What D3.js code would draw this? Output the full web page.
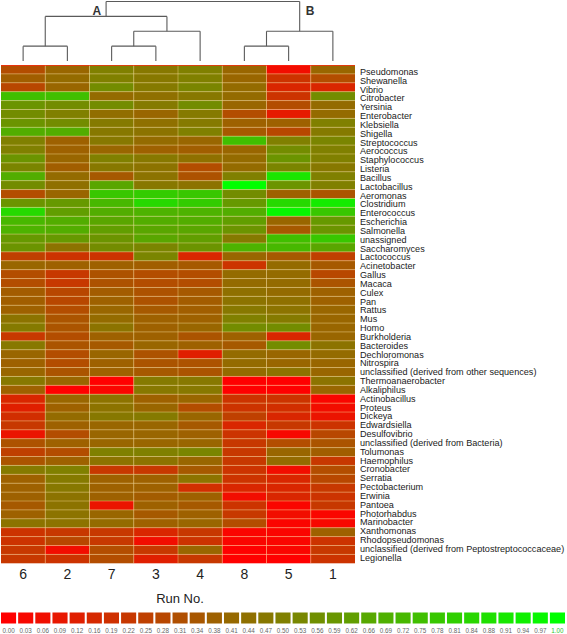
<!DOCTYPE html>
<html><head><meta charset="utf-8">
<script src="https://cdn.jsdelivr.net/npm/d3@7"></script>
<style>body{margin:0;background:#fff}svg{display:block}</style>
</head><body>
<script>
// ---------- DATA ----------
const runs = ["6","2","7","3","4","8","5","1"];
const genera = ["Pseudomonas","Shewanella","Vibrio","Citrobacter","Yersinia","Enterobacter","Klebsiella","Shigella",
"Streptococcus","Aerococcus","Staphylococcus","Listeria","Bacillus","Lactobacillus","Aeromonas","Clostridium",
"Enterococcus","Escherichia","Salmonella","unassigned","Saccharomyces","Lactococcus","Acinetobacter","Gallus",
"Macaca","Culex","Pan","Rattus","Mus","Homo","Burkholderia","Bacteroides","Dechloromonas","Nitrospira",
"unclassified (derived from other sequences)","Thermoanaerobacter","Alkaliphilus","Actinobacillus","Proteus",
"Dickeya","Edwardsiella","Desulfovibrio","unclassified (derived from Bacteria)","Tolumonas","Haemophilus",
"Cronobacter","Serratia","Pectobacterium","Erwinia","Pantoea","Photorhabdus","Marinobacter","Xanthomonas",
"Rhodopseudomonas","unclassified (derived from Peptostreptococcaceae)","Legionella"];

// relative abundance (0 = red, 1 = green), one array per run, in genus order
const run6 = [.30,.37,.28,.75,.58,.55,.58,.68,.50,.50, .58,.52,.68,.55,.30,.58,.85,.72,.70,.60,
              .58,.25,.40,.30,.30,.36,.37,.38,.45,.48, .22,.47,.40,.38,.40,.47,.38,.15,.12,.18,
              .22,.08,.32,.25,.33,.48,.38,.38,.38,.35, .38,.45,.20,.20,.22,.22];
const run2 = [.40,.42,.40,.75,.55,.50,.55,.68,.38,.38, .40,.37,.42,.44,.40,.60,.62,.68,.68,.60,
              .45,.20,.38,.22,.22,.28,.28,.30,.33,.33, .30,.33,.30,.30,.33,.40,.00,.40,.38,.42,
              .38,.30,.38,.30,.38,.50,.48,.47,.45,.45, .45,.45,.22,.28,.05,.20];
const run7 = [.50,.50,.55,.42,.55,.43,.48,.47,.47,.40, .50,.47,.35,.65,.78,.72,.68,.65,.62,.58,
              .55,.20,.38,.32,.32,.36,.38,.40,.42,.45, .38,.35,.40,.38,.38,.00,.02,.45,.45,.47,
              .40,.40,.40,.50,.45,.22,.38,.38,.38,.08, .40,.42,.22,.22,.30,.30];
const run3 = [.47,.47,.48,.44,.48,.40,.44,.45,.42,.38, .47,.45,.45,.47,.80,.85,.70,.68,.65,.65,
              .52,.52,.37,.30,.30,.32,.32,.35,.38,.38, .38,.40,.32,.33,.35,.48,.47,.38,.40,.48,
              .40,.40,.40,.50,.45,.22,.38,.38,.36,.38, .35,.38,.15,.05,.22,.12];
const run4 = [.50,.50,.52,.47,.55,.48,.48,.50,.40,.37, .44,.30,.32,.45,.78,.80,.70,.68,.65,.62,
              .58,.15,.35,.30,.30,.35,.36,.37,.38,.40, .33,.38,.12,.32,.33,.47,.47,.40,.30,.40,
              .35,.38,.40,.52,.40,.35,.45,.18,.38,.35, .38,.40,.22,.20,.40,.22];
const run8 = [.40,.40,.42,.42,.40,.30,.38,.35,.75,.40, .42,.42,.50,1.0,.55,.60,.68,.62,.58,.48,
              .70,.40,.20,.42,.42,.44,.45,.47,.50,.55, .38,.35,.42,.42,.42,.00,.00,.20,.20,.25,
              .15,.20,.22,.22,.22,.20,.20,.15,.05,.20, .22,.30,.02,.02,.00,.00];
const run5 = [.05,.20,.15,.20,.30,.10,.38,.28,.50,.55, .58,.52,.90,.58,.38,.85,.97,.40,.35,.75,
              .72,.35,.42,.42,.42,.42,.44,.45,.48,.55, .15,.55,.40,.40,.45,.00,.00,.20,.18,.15,
              .22,.03,.30,.40,.42,.05,.15,.15,.15,.02, .05,.02,.02,.02,.02,.00];
const run1 = [.40,.30,.15,.55,.42,.42,.50,.48,.52,.50, .50,.47,.50,.50,.33,.92,.78,.60,.58,.78,
              .65,.25,.35,.28,.33,.38,.38,.40,.40,.40, .40,.45,.42,.40,.40,.45,.40,.02,.05,.08,
              .20,.28,.33,.37,.22,.30,.28,.22,.20,.22, .02,.03,.38,.20,.22,.20];

const legendLabels = ["0.00","0.03","0.06","0.09","0.12","0.16","0.19","0.22","0.25","0.28","0.31",
  "0.34","0.38","0.41","0.44","0.47","0.50","0.53","0.56","0.59","0.62","0.66","0.69","0.72","0.75",
  "0.78","0.81","0.84","0.88","0.91","0.94","0.97","1.00"];

// run clustering (merge level 0 = leaf)
const clustering = {level:4, children:[
  {level:3, label:"A", children:[
     {level:1, children:[{name:"6"},{name:"2"}]},
     {level:2, children:[{level:1, children:[{name:"7"},{name:"3"}]},{name:"4"}]}
  ]},
  {level:2, label:"B", children:[
     {level:1, children:[{name:"8"},{name:"5"}]},
     {name:"1"}
  ]}
]};

// ---------- CHART ----------
const W = 567, H = 634;
const font = "'Liberation Sans', Arial, sans-serif";
const svg = d3.select("body").append("svg").attr("width", W).attr("height", H)
  .style("font-family", font);

const series = {"6":run6,"2":run2,"7":run7,"3":run3,"4":run4,"8":run8,"5":run5,"1":run1};
const x = d3.scaleBand().domain(runs).range([1, 355]);
const y = d3.scaleBand().domain(genera).range([65, 563.3]);
const labelY = d3.scalePoint().domain(genera).range([75, 560.7]);
const color = d3.scaleLinear().domain([0, 1]).range(["#ff0000", "#00ff00"]).interpolate(d3.interpolateRgb);

const cells = [];
runs.forEach(r => genera.forEach((g, i) => cells.push({run: r, genus: g, v: series[r][i]})));

svg.append("g").selectAll("rect").data(cells).join("rect")
  .attr("x", d => x(d.run)).attr("y", d => y(d.genus))
  .attr("width", x.bandwidth()).attr("height", y.bandwidth())
  .attr("fill", d => color(d.v));

// grid lines
const grid = svg.append("g").attr("stroke", "rgba(255,225,150,0.45)").attr("stroke-width", 0.9);
grid.selectAll("line.v").data(runs.slice(1)).join("line").attr("class","v")
  .attr("x1", d => x(d)).attr("x2", d => x(d)).attr("y1", y.range()[0]).attr("y2", y.range()[1]);
grid.selectAll("line.h").data(genera.slice(1)).join("line").attr("class","h")
  .attr("y1", d => y(d)).attr("y2", d => y(d)).attr("x1", x.range()[0]).attr("x2", x.range()[1]);
svg.append("line").attr("x1", x.range()[0]).attr("x2", x.range()[1])
  .attr("y1", y.range()[0] + 0.5).attr("y2", y.range()[0] + 0.5)
  .attr("stroke", "rgba(255,40,20,0.7)").attr("stroke-width", 1);

// row labels
svg.append("g").selectAll("text").data(genera).join("text")
  .attr("x", 360).attr("y", d => labelY(d))
  .attr("font-size", 9.1).attr("fill", "#1a1a1a").text(d => d);

// column labels
svg.append("g").selectAll("text").data(runs).join("text")
  .attr("x", d => x(d) + x.bandwidth() / 2).attr("y", 579)
  .attr("text-anchor", "middle").attr("font-size", 14).attr("fill", "#222").text(d => d);
svg.append("text").attr("x", 180).attr("y", 603).attr("text-anchor", "middle")
  .attr("font-size", 13).attr("fill", "#222").text("Run No.");

// dendrogram
const root = d3.hierarchy(clustering);
const lvl = d3.scaleLinear().domain([0, 4]).range([61, 1.5]);
root.eachAfter(n => {
  n.px = n.children ? (n.children[0].px + n.children[n.children.length - 1].px) / 2
                    : x(n.data.name) + x.bandwidth() / 2;
  n.py = lvl(n.children ? n.data.level : 0);
});
const segs = [];
root.descendants().filter(n => n.children).forEach(n => {
  segs.push([n.children[0].px, n.py, n.children[n.children.length - 1].px, n.py]);
  n.children.forEach(c => segs.push([c.px, c.py, c.px, n.py]));
});
svg.append("g").attr("stroke", "#5a5a5a").attr("stroke-width", 1.1).attr("fill", "none")
  .selectAll("line").data(segs).join("line")
  .attr("x1", d => d[0]).attr("y1", d => d[1]).attr("x2", d => d[2]).attr("y2", d => d[3]);
svg.append("g").selectAll("text").data(root.descendants().filter(n => n.data.label)).join("text")
  .attr("x", n => n.data.label === "A" ? n.px - 5 : n.px + 6)
  .attr("y", 15)
  .attr("text-anchor", n => n.data.label === "A" ? "end" : "start")
  .attr("font-size", 12).attr("font-weight", "bold").attr("fill", "#333")
  .text(n => n.data.label);

// legend
const lx = d3.scaleBand().domain(legendLabels).range([1, 565]).paddingInner(0.12);
const lg = svg.append("g");
lg.selectAll("rect").data(legendLabels).join("rect")
  .attr("x", d => lx(d)).attr("y", 612.5).attr("width", lx.bandwidth()).attr("height", 11)
  .attr("fill", d => color(+d));
lg.selectAll("text").data(legendLabels).join("text")
  .attr("x", d => lx(d) + lx.bandwidth() / 2).attr("y", 633)
  .attr("text-anchor", "middle").attr("font-size", 6.3)
  .attr("fill", d => d === "1.00" ? "#2fc42f" : "#666").text(d => d);
</script>
</body></html>
